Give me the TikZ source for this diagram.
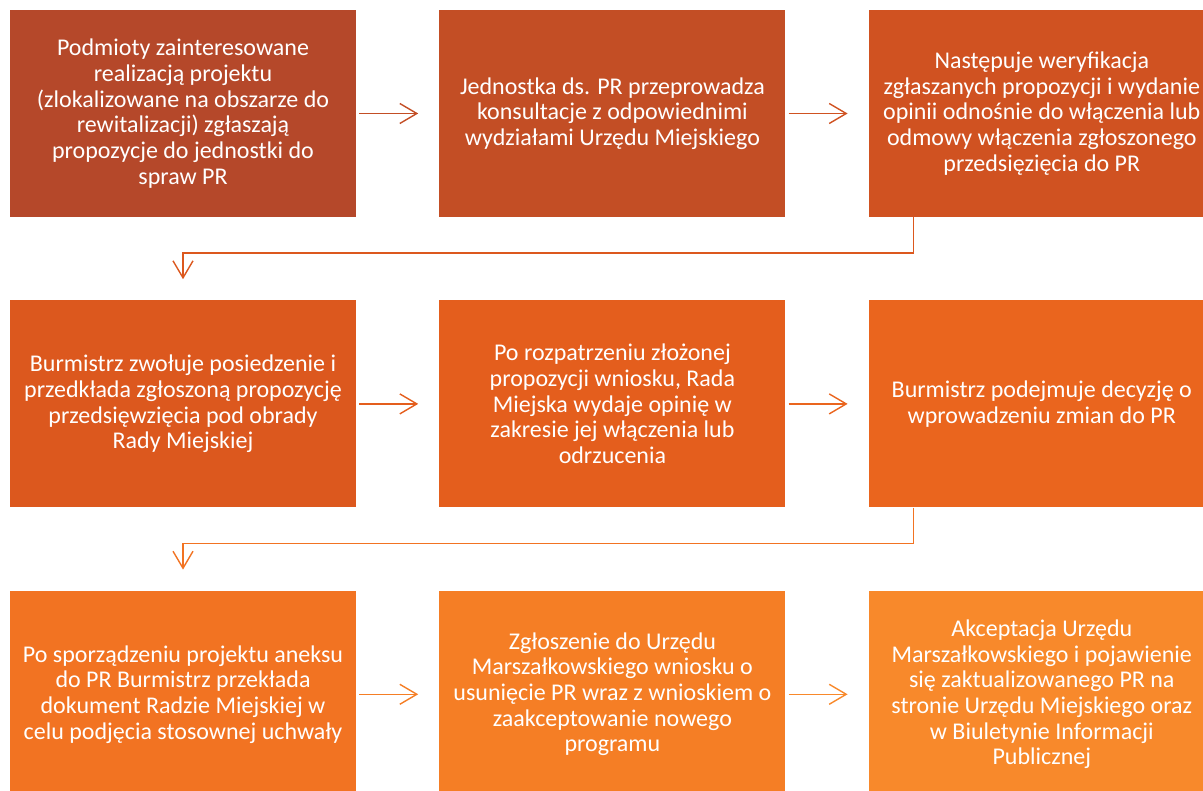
\documentclass[tikz,border=0pt]{standalone}
\usepackage{fontspec}
\setmainfont{Carlito}
\usetikzlibrary{arrows.meta,positioning}
\definecolor{stepA}{RGB}{181,72,42}
\definecolor{stepB}{RGB}{195,78,37}
\definecolor{stepC}{RGB}{208,82,33}
\definecolor{stepD}{RGB}{220,88,30}
\definecolor{stepE}{RGB}{228,94,29}
\definecolor{stepF}{RGB}{234,101,30}
\definecolor{stepG}{RGB}{242,115,34}
\definecolor{stepH}{RGB}{245,126,37}
\definecolor{stepI}{RGB}{248,137,43}

\begin{document}
\begin{tikzpicture}[
  x=1pt, y=1pt,
  box/.style={draw=none, align=center, text=white,
    minimum width=346pt, minimum height=207pt, inner sep=4pt,
    font=\fontsize{24}{25.7}\selectfont},
  link/.style={-{Straight Barb[length=17pt, width=20pt]}, line width=1.4pt},
  node distance=83pt
]
\useasboundingbox (0,0) rectangle (1203,-791);
\node[box, fill=stepA] (propose) at (183,-113.5)
  {Podmioty zainteresowane\\realizacją projektu\\(zlokalizowane na obszarze do\\rewitalizacji) zgłaszają\\propozycje do jednostki do\\spraw PR};
\node[box, fill=stepB, right=of propose] (consult)
  {Jednostka ds. PR przeprowadza\\konsultacje z odpowiednimi\\wydziałami Urzędu Miejskiego};
\node[box, fill=stepC, right=of consult] (verify)
  {Następuje weryfikacja\\zgłaszanych propozycji i wydanie\\opinii odnośnie do włączenia lub\\odmowy włączenia zgłoszonego\\przedsięzięcia do PR};
\node[box, fill=stepD, below=of propose] (session)
  {Burmistrz zwołuje posiedzenie i\\przedkłada zgłoszoną propozycję\\przedsięwzięcia pod obrady\\Rady Miejskiej};
\node[box, fill=stepE, right=of session] (opinion)
  {Po rozpatrzeniu złożonej\\propozycji wniosku, Rada\\Miejska wydaje opinię w\\zakresie jej włączenia lub\\odrzucenia};
\node[box, fill=stepF, right=of opinion] (decision)
  {Burmistrz podejmuje decyzję o\\wprowadzeniu zmian do PR};
\node[box, fill=stepG, below=of session] (annex)
  {Po sporządzeniu projektu aneksu\\do PR Burmistrz przekłada\\dokument Radzie Miejskiej w\\celu podjęcia stosownej uchwały};
\node[box, fill=stepH, right=of annex] (request)
  {Zgłoszenie do Urzędu\\Marszałkowskiego wniosku o\\usunięcie PR wraz z wnioskiem o\\zaakceptowanie nowego\\programu};
\node[box, fill=stepI, right=of request] (accept)
  {Akceptacja Urzędu\\Marszałkowskiego i pojawienie\\się zaktualizowanego PR na\\stronie Urzędu Miejskiego oraz\\w Biuletynie Informacji\\Publicznej};
\draw[link, stepB] ([xshift=3pt]propose.east) -- ([xshift=-21pt]consult.west);
\draw[link, stepC] ([xshift=3pt]consult.east) -- ([xshift=-21pt]verify.west);
\draw[link, stepD] ([xshift=45pt]verify.south west) -- ++(0,-36) -| ([yshift=21pt]session.north);
\draw[link, stepE] ([xshift=3pt]session.east) -- ([xshift=-21pt]opinion.west);
\draw[link, stepF] ([xshift=3pt]opinion.east) -- ([xshift=-21pt]decision.west);
\draw[link, stepG] ([xshift=45pt]decision.south west) -- ++(0,-36) -| ([yshift=21pt]annex.north);
\draw[link, stepH] ([xshift=3pt]annex.east) -- ([xshift=-21pt]request.west);
\draw[link, stepI] ([xshift=3pt]request.east) -- ([xshift=-21pt]accept.west);
\end{tikzpicture}
\end{document}
